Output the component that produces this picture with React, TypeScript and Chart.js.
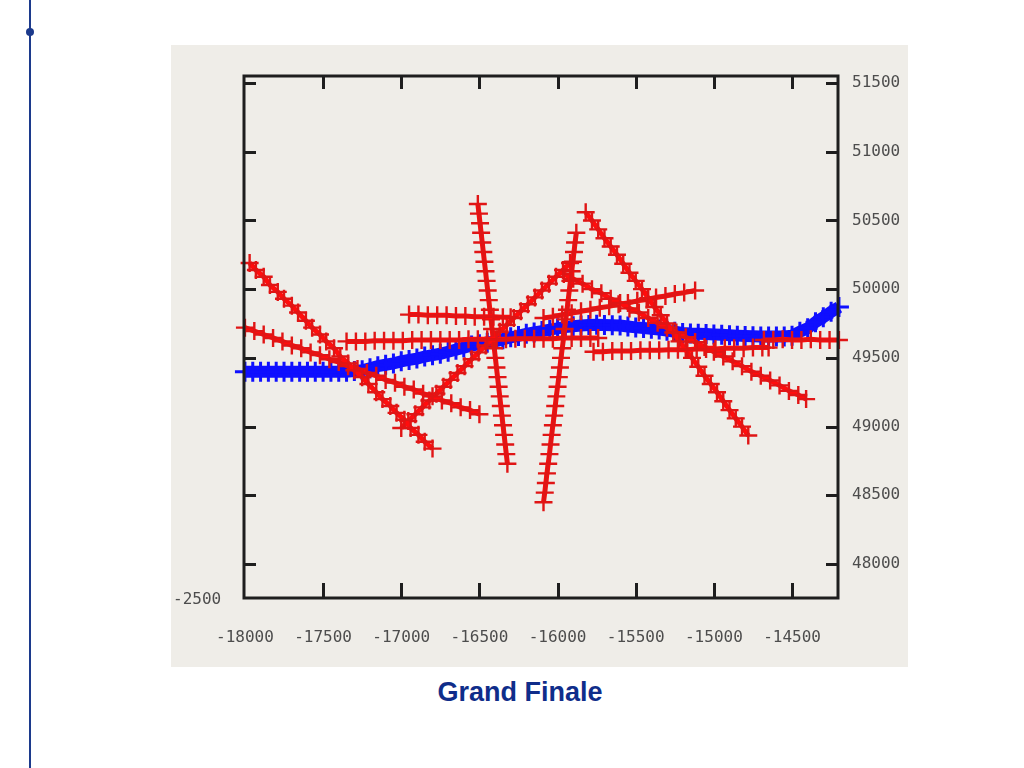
import React, { useEffect, useRef } from "react";
import { Chart, registerables } from "chart.js";

Chart.register(...registerables);

const title = "Grand Finale";
const cornerLabel = "-2500";
const xTickValues = [-18000, -17500, -17000, -16500, -16000, -15500, -15000, -14500];
const yTickValues = [48000, 48500, 49000, 49500, 50000, 50500, 51000, 51500];

const blueTrack: [number, number][] = [
  [-18000, 49400], [-17950, 49400], [-17900, 49400], [-17850, 49400], [-17800, 49400], [-17750, 49400],
  [-17700, 49400], [-17650, 49400], [-17600, 49400], [-17550, 49400], [-17500, 49400], [-17450, 49400],
  [-17400, 49400], [-17350, 49400], [-17300, 49405], [-17250, 49410], [-17200, 49425], [-17150, 49440],
  [-17100, 49450], [-17050, 49460], [-17000, 49475], [-16950, 49485], [-16900, 49495], [-16850, 49510],
  [-16800, 49520], [-16750, 49530], [-16700, 49545], [-16650, 49560], [-16600, 49575], [-16550, 49590],
  [-16500, 49600], [-16450, 49610], [-16400, 49620], [-16350, 49635], [-16300, 49650], [-16250, 49660],
  [-16200, 49675], [-16150, 49685], [-16100, 49695], [-16050, 49705], [-16000, 49715], [-15950, 49725],
  [-15900, 49730], [-15850, 49735], [-15800, 49740], [-15750, 49742], [-15700, 49740], [-15650, 49738],
  [-15600, 49735], [-15550, 49728], [-15500, 49722], [-15450, 49718], [-15400, 49712], [-15350, 49706],
  [-15300, 49698], [-15250, 49690], [-15200, 49682], [-15150, 49678], [-15100, 49676], [-15050, 49673],
  [-15000, 49670], [-14950, 49668], [-14900, 49665], [-14850, 49662], [-14800, 49660], [-14750, 49657],
  [-14700, 49655], [-14650, 49655], [-14600, 49655], [-14550, 49656], [-14500, 49662], [-14450, 49690],
  [-14400, 49715], [-14350, 49760], [-14300, 49795], [-14250, 49835], [-14200, 49870], [-14150, 49905],
];

const redTrackA: [number, number][] = [
  [-17970, 50190], [-17930, 50140], [-17880, 50090], [-17840, 50030], [-17790, 49980], [-17750, 49930],
  [-17700, 49880], [-17660, 49830], [-17610, 49770], [-17570, 49720], [-17520, 49670], [-17480, 49620],
  [-17430, 49570], [-17390, 49510], [-17340, 49460], [-17300, 49410], [-17250, 49360], [-17210, 49310],
  [-17160, 49250], [-17120, 49200], [-17070, 49150], [-17030, 49100], [-16980, 49050], [-16940, 48990],
  [-16890, 48940], [-16850, 48890], [-16800, 48840],
];

const redTrackB: [number, number][] = [
  [-18000, 49720], [-17940, 49695], [-17880, 49670], [-17820, 49645], [-17760, 49620], [-17700, 49590],
  [-17640, 49570], [-17580, 49540], [-17520, 49520], [-17460, 49490], [-17400, 49470], [-17340, 49440],
  [-17280, 49420], [-17220, 49390], [-17160, 49370], [-17100, 49340], [-17040, 49320], [-16980, 49290],
  [-16920, 49270], [-16860, 49240], [-16800, 49220], [-16740, 49190], [-16680, 49170], [-16620, 49140],
  [-16560, 49120], [-16500, 49090],
];

const redTrackC1: [number, number][] = [
  [-17350, 49620], [-17290, 49620], [-17230, 49620], [-17170, 49625], [-17110, 49625], [-17050, 49625],
  [-16990, 49625], [-16930, 49630], [-16870, 49630], [-16810, 49630], [-16750, 49630], [-16690, 49630],
  [-16630, 49630], [-16570, 49635], [-16510, 49635], [-16450, 49635], [-16390, 49635], [-16330, 49635],
  [-16270, 49640], [-16210, 49640], [-16150, 49640], [-16090, 49640], [-16030, 49640], [-15970, 49645],
  [-15910, 49645], [-15850, 49645], [-15790, 49645], [-15740, 49645],
];

const redTrackC2: [number, number][] = [
  [-15770, 49545], [-15710, 49545], [-15650, 49550], [-15590, 49550], [-15530, 49550], [-15470, 49555],
  [-15410, 49555], [-15350, 49555], [-15290, 49560], [-15230, 49560], [-15170, 49560], [-15110, 49565],
  [-15050, 49565], [-14990, 49565], [-14930, 49570], [-14870, 49570], [-14810, 49570], [-14750, 49575],
  [-14690, 49575], [-14650, 49575],
];

const redTrackC3: [number, number][] = [
  [-14680, 49630], [-14620, 49630], [-14560, 49635], [-14500, 49630], [-14440, 49630], [-14380, 49635],
  [-14320, 49630], [-14260, 49630], [-14200, 49630], [-14150, 49630],
];

const redTrackD: [number, number][] = [
  [-16950, 49815], [-16890, 49815], [-16830, 49810], [-16770, 49810], [-16710, 49810], [-16650, 49805],
  [-16590, 49805], [-16530, 49800], [-16470, 49800], [-16410, 49800], [-16350, 49795], [-16300, 49795],
];

const redTrackE: [number, number][] = [
  [-16510, 50620], [-16503, 50550], [-16496, 50480], [-16489, 50410], [-16482, 50340], [-16475, 50270],
  [-16468, 50200], [-16461, 50130], [-16454, 50060], [-16447, 49990], [-16440, 49920], [-16433, 49850],
  [-16426, 49780], [-16419, 49710], [-16412, 49640], [-16405, 49570], [-16398, 49500], [-16391, 49430],
  [-16384, 49360], [-16377, 49290], [-16370, 49220], [-16363, 49150], [-16356, 49080], [-16349, 49010],
  [-16342, 48940], [-16335, 48870], [-16328, 48800], [-16321, 48730],
];

const redTrackF: [number, number][] = [
  [-16090, 48450], [-16082, 48520], [-16075, 48590], [-16068, 48660], [-16060, 48730], [-16052, 48800],
  [-16045, 48870], [-16038, 48940], [-16030, 49010], [-16022, 49080], [-16015, 49150], [-16008, 49220],
  [-16000, 49290], [-15992, 49360], [-15985, 49430], [-15978, 49500], [-15970, 49570], [-15962, 49640],
  [-15955, 49710], [-15948, 49780], [-15940, 49850], [-15932, 49920], [-15925, 49990], [-15918, 50060],
  [-15910, 50130], [-15902, 50200], [-15895, 50270], [-15888, 50340], [-15880, 50410],
];

const redTrackG: [number, number][] = [
  [-17000, 48990], [-16955, 49040], [-16910, 49090], [-16865, 49140], [-16820, 49190], [-16775, 49240],
  [-16730, 49290], [-16685, 49340], [-16640, 49390], [-16595, 49440], [-16550, 49490], [-16505, 49540],
  [-16460, 49590], [-16415, 49640], [-16370, 49690], [-16325, 49740], [-16280, 49790], [-16235, 49840],
  [-16190, 49890], [-16145, 49940], [-16100, 49990], [-16055, 50040], [-16010, 50090], [-15965, 50140],
  [-15920, 50190],
];

const redTrackH: [number, number][] = [
  [-15820, 50560], [-15780, 50500], [-15740, 50435], [-15700, 50370], [-15660, 50310], [-15620, 50250],
  [-15580, 50185], [-15540, 50120], [-15500, 50060], [-15460, 50000], [-15420, 49935], [-15380, 49870],
  [-15340, 49810], [-15300, 49750], [-15260, 49685], [-15220, 49620], [-15180, 49560], [-15140, 49500],
  [-15100, 49435], [-15060, 49370], [-15020, 49310], [-14980, 49250], [-14940, 49185], [-14900, 49120],
  [-14860, 49060], [-14820, 49000], [-14780, 48935],
];

const redTrackI: [number, number][] = [
  [-15960, 50110], [-15900, 50075], [-15840, 50040], [-15780, 50000], [-15720, 49970], [-15660, 49930],
  [-15600, 49900], [-15540, 49860], [-15480, 49830], [-15420, 49790], [-15360, 49755], [-15300, 49720],
  [-15240, 49685], [-15180, 49650], [-15120, 49615], [-15060, 49580], [-15000, 49545], [-14940, 49510],
  [-14880, 49475], [-14820, 49440], [-14760, 49400], [-14700, 49370], [-14640, 49335], [-14580, 49300],
  [-14520, 49260], [-14460, 49230], [-14410, 49200],
];

const redTrackJ: [number, number][] = [
  [-16090, 49790], [-16030, 49800], [-15970, 49815], [-15910, 49825], [-15850, 49840], [-15790, 49850],
  [-15730, 49865], [-15670, 49875], [-15610, 49890], [-15550, 49900], [-15490, 49915], [-15430, 49925],
  [-15370, 49940], [-15310, 49950], [-15250, 49965], [-15190, 49975], [-15120, 49990],
];

const redTracks = [
  redTrackA, redTrackB, redTrackC1, redTrackC2, redTrackC3, redTrackD,
  redTrackE, redTrackF, redTrackG, redTrackH, redTrackI, redTrackJ,
];

const RED = "#ff0d0d";
const RED_DARK = "#e01515";
const BLUE = "#0f0fff";
const INK = "#1e1e1e";
const LABEL = "#4d4d4d";
const PANEL = "#efede8";
const tickFont = { family: "'DejaVu Sans Mono', monospace", size: 16 };

const framePlugin = {
  id: "framePlugin",
  afterDatasetsDraw(chart: any) {
    const { ctx, chartArea } = chart;
    const { left, right, top, bottom } = chartArea;
    const xs = chart.scales.x;
    const ys = chart.scales.y;
    ctx.save();
    ctx.strokeStyle = INK;
    ctx.lineWidth = 3;
    ctx.beginPath();
    xTickValues.forEach((v) => {
      if (v === xTickValues[0]) return;
      const px = Math.round(xs.getPixelForValue(v)) + 0.5;
      ctx.moveTo(px, top);
      ctx.lineTo(px, top + 13);
      ctx.moveTo(px, bottom);
      ctx.lineTo(px, bottom - 15);
    });
    yTickValues.forEach((v) => {
      const py = Math.round(ys.getPixelForValue(v)) + 0.5;
      ctx.moveTo(left, py);
      ctx.lineTo(left + 12, py);
      ctx.moveTo(right, py);
      ctx.lineTo(right - 12, py);
    });
    ctx.stroke();
    ctx.strokeRect(left, top, right - left, bottom - top);
    ctx.fillStyle = LABEL;
    ctx.font = "16px 'DejaVu Sans Mono', monospace";
    ctx.textAlign = "left";
    ctx.textBaseline = "middle";
    ctx.fillText(cornerLabel, left - 71, bottom + 2);
    ctx.restore();
  },
};

export default function App() {
  const canvasRef = useRef<HTMLCanvasElement | null>(null);

  useEffect(() => {
    if (!canvasRef.current) return;
    const datasets: any[] = [
      {
        label: "blue",
        data: blueTrack.map(([x, y]) => ({ x, y })),
        showLine: true,
        borderColor: BLUE,
        borderWidth: 12,
        pointStyle: "cross",
        pointRadius: 10,
        pointBorderWidth: 3,
        pointBorderColor: BLUE,
        pointBackgroundColor: BLUE,
        clip: false,
        order: 2,
      },
      ...redTracks.map((track, i) => ({
        label: "red" + i,
        data: track.map(([x, y]) => ({ x, y })),
        showLine: true,
        borderColor: RED,
        borderWidth: 5,
        pointStyle: "cross",
        pointRadius: 9,
        pointBorderWidth: 2.4,
        pointBorderColor: RED_DARK,
        pointBackgroundColor: RED,
        clip: false,
        order: 1,
      })),
    ];
    const chart = new Chart(canvasRef.current, {
      type: "scatter",
      data: { datasets },
      options: {
        animation: false,
        responsive: false,
        maintainAspectRatio: false,
        layout: { padding: { left: 73, top: 31, right: 0, bottom: 0 } },
        plugins: { legend: { display: false }, tooltip: { enabled: false } },
        scales: {
          x: {
            type: "linear",
            position: "bottom",
            min: -18006,
            max: -14206,
            afterBuildTicks: (s: any) => {
              s.ticks = xTickValues.map((v) => ({ value: v }));
            },
            afterFit: (s: any) => {
              s.height = 69;
            },
            grid: { display: false, drawTicks: false },
            border: { display: false },
            ticks: {
              autoSkip: false,
              maxRotation: 0,
              padding: 30,
              color: LABEL,
              font: tickFont,
              callback: (v: any) => String(v),
            },
          },
          y: {
            type: "linear",
            position: "right",
            min: 47753,
            max: 51551,
            afterBuildTicks: (s: any) => {
              s.ticks = yTickValues.map((v) => ({ value: v }));
            },
            afterFit: (s: any) => {
              s.width = 70;
            },
            grid: { display: false, drawTicks: false },
            border: { display: false },
            ticks: {
              autoSkip: false,
              padding: 14,
              color: LABEL,
              font: tickFont,
              callback: (v: any) => String(v),
            },
          },
        },
      },
      plugins: [framePlugin],
    });
    return () => chart.destroy();
  }, []);

  return (
    <div
      style={{
        position: "absolute",
        left: 0,
        top: 0,
        width: 1024,
        height: 768,
        background: "#ffffff",
        overflow: "hidden",
      }}
    >
      <div style={{ position: "absolute", left: 29, top: 0, width: 2, height: 768, background: "#1c3a8c" }} />
      <div
        style={{
          position: "absolute",
          left: 26,
          top: 28,
          width: 8,
          height: 8,
          borderRadius: 4,
          background: "#1c3a8c",
        }}
      />
      <div style={{ position: "absolute", left: 171, top: 45, width: 737, height: 622, background: PANEL }}>
        <canvas ref={canvasRef} width={737} height={622} style={{ display: "block" }} />
      </div>
      <div
        style={{
          position: "absolute",
          left: 0,
          width: 1040,
          top: 674,
          textAlign: "center",
          fontFamily: "'Liberation Sans', Arial, sans-serif",
          fontWeight: "bold",
          fontSize: 27,
          color: "#0f2d8a",
          lineHeight: "36px",
        }}
      >
        {title}
      </div>
    </div>
  );
}
